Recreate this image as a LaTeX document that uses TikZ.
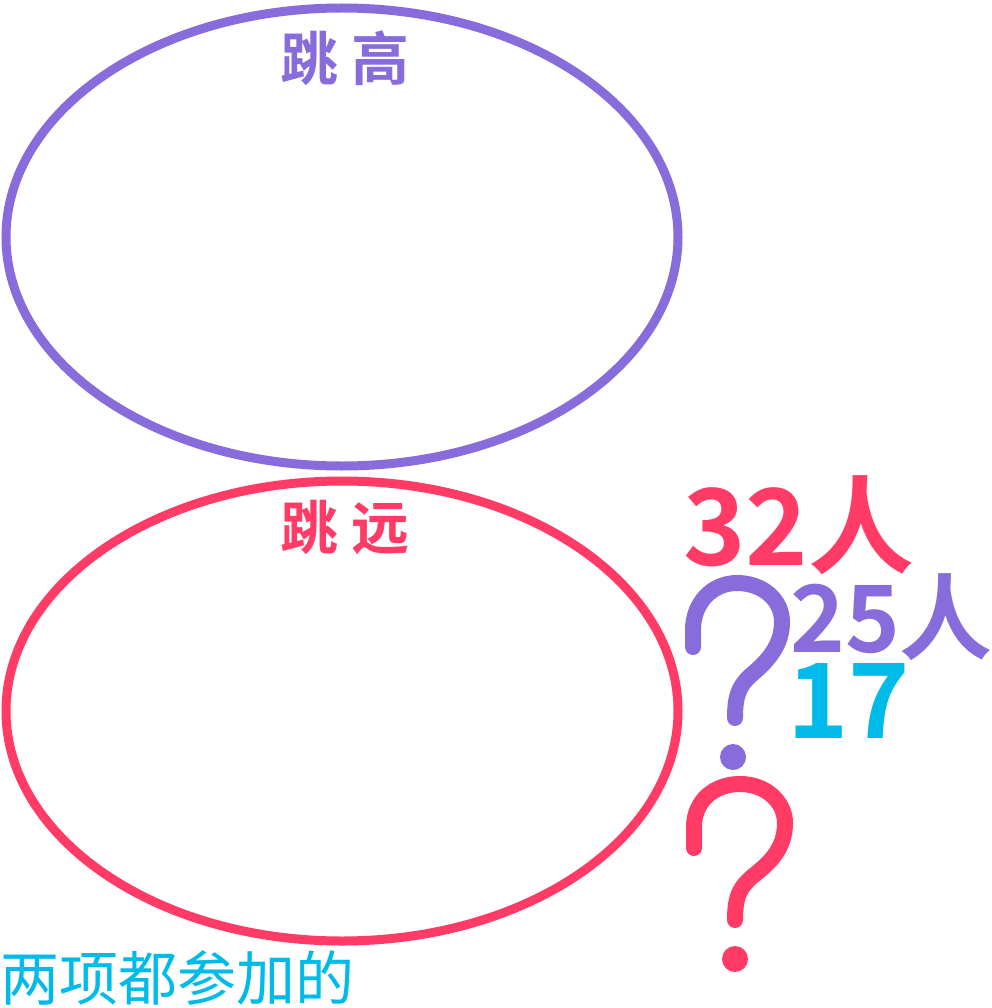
\documentclass[tikz,border=0pt]{standalone}
\usepackage{fontspec}
\newfontfamily\cjk{Noto Sans CJK SC}[BoldFont={* Bold}]
\definecolor{vpurple}{HTML}{886CDB}
\definecolor{vred}{HTML}{FF3B66}
\definecolor{vcyan}{HTML}{00BBEA}
\begin{document}
\begin{tikzpicture}[x=1pt,y=-1pt,
  ring/.style={line width=9pt},
  qmark/.style={line width=16pt,line cap=round},
  lbl/.style={inner sep=0pt,anchor=base,font=\cjk\bfseries\fontsize{58}{60}\selectfont},
  big/.style={inner sep=0pt,anchor=base west,font=\cjk\bfseries\fontsize{#1}{#1}\selectfont}]
\useasboundingbox (0,0) rectangle (991,1008);
% ellipses
\draw[ring,vpurple] (342,237) ellipse [x radius=336, y radius=229];
\draw[ring,vred] (342,711) ellipse [x radius=336, y radius=230];
% labels
\node[lbl,text=vpurple] (gao) at (345,81) {跳 高};
\node[lbl,text=vred] (yuan) at (345,549) {跳 远};
% numbers
\node[big=106,text=vred] (n32) at (683,565) {32人};
\node[big=93,text=vpurple] (n25) at (790,652) {25人};
\node[big=104,text=vcyan] (n17) at (787,738) {17};
\node[inner sep=0pt,anchor=base west,text=vcyan,font=\cjk\fontsize{59}{60}\selectfont] (both) at (0,1000) {两项都参加的};
% question marks
\draw[qmark,vpurple] (693,647) -- (693,630) .. controls (693,603) and (712,583) .. (737,583)
  .. controls (763,583) and (782,600) .. (782,622) .. controls (782,648) and (764,664) .. (750,676)
  .. controls (738,687) and (735,698) .. (735,718);
\fill[vpurple] (733,757) circle (13);
\draw[qmark,vred] (694,848) -- (694,827) .. controls (694,801) and (714,784) .. (740,784)
  .. controls (766,784) and (785,802) .. (785,823) .. controls (785,850) and (768,864) .. (753,876)
  .. controls (740,887) and (735,896) .. (735,920);
\fill[vred] (735,959) circle (13);
\end{tikzpicture}
\end{document}
